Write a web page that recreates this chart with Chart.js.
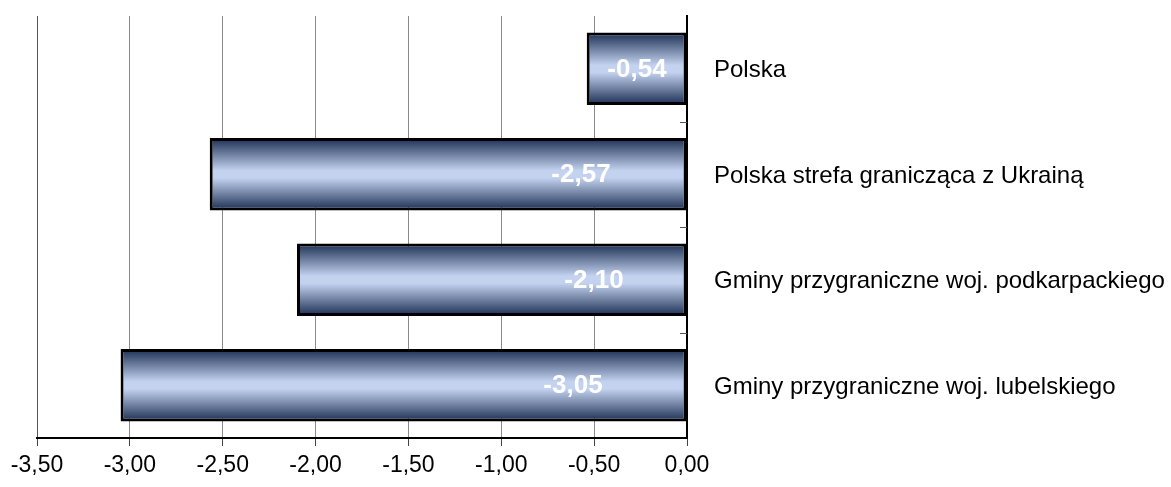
<!DOCTYPE html>
<html>
<head>
<meta charset="utf-8">
<script src="https://cdn.jsdelivr.net/npm/chart.js@4/dist/chart.umd.min.js"></script>
<style>
  html, body { margin: 0; padding: 0; background: #fff; }
  #wrap { width: 1171px; height: 487px; }
</style>
</head>
<body>
<div id="wrap"><canvas id="chart" width="1171" height="487"></canvas></div>
<script>
const categories = [
  'Polska',
  'Polska strefa granicząca z Ukrainą',
  'Gminy przygraniczne woj. podkarpackiego',
  'Gminy przygraniczne woj. lubelskiego'
];
const values = [-0.54, -2.57, -2.10, -3.05];
const xTicks = [-3.5, -3.0, -2.5, -2.0, -1.5, -1.0, -0.5, 0];

// label placement (px left of the zero line), style only
const labelOffsets = [-50, -106, -93, -114];
const BAR_PCT = 0.685;

const FONT = '"Liberation Sans", Arial, sans-serif';
const fmt = v => Number(v).toFixed(2).replace('.', ',');

function barGradient(context) {
  const chart = context.chart;
  const yScale = chart.scales.y;
  if (!chart.chartArea || !yScale || context.dataIndex === undefined) return '#8fa3c7';
  const cy = yScale.getPixelForValue(context.dataIndex);
  const half = (yScale.height / categories.length) * BAR_PCT / 2;
  const g = chart.ctx.createLinearGradient(0, cy - half, 0, cy + half);
  g.addColorStop(0, '#1b2e52');
  g.addColorStop(0.45, '#c3d2ef');
  g.addColorStop(0.55, '#c3d2ef');
  g.addColorStop(1, '#1b2e52');
  return g;
}

// white value labels inside the bars
const valueLabels = {
  id: 'valueLabels',
  afterDatasetsDraw(chart) {
    const ctx = chart.ctx;
    const zero = chart.scales.x.getPixelForValue(0);
    const meta = chart.getDatasetMeta(0);
    ctx.save();
    ctx.font = 'bold 26px ' + FONT;
    ctx.fillStyle = '#ffffff';
    ctx.textAlign = 'center';
    ctx.textBaseline = 'middle';
    meta.data.forEach((el, i) => {
      ctx.fillText(fmt(values[i]), zero + labelOffsets[i], el.y + 1);
    });
    ctx.restore();
  }
};

// small inner tick marks on the category axis
const innerTicks = {
  id: 'innerTicks',
  afterDraw(chart) {
    const ctx = chart.ctx;
    const { top, bottom, right } = chart.chartArea;
    const step = (bottom - top) / categories.length;
    ctx.save();
    ctx.strokeStyle = '#555';
    ctx.lineWidth = 1;
    for (let i = 1; i < categories.length; i++) {
      const y = Math.round(top + step * i) + 0.5;
      ctx.beginPath();
      ctx.moveTo(right - 7, y);
      ctx.lineTo(right, y);
      ctx.stroke();
    }
    ctx.restore();
  }
};

new Chart(document.getElementById('chart').getContext('2d'), {
  type: 'bar',
  data: {
    labels: categories,
    datasets: [{
      data: values,
      backgroundColor: barGradient,
      borderColor: '#000000',
      borderWidth: 3,
      borderSkipped: false,
      barPercentage: BAR_PCT,
      categoryPercentage: 1
    }]
  },
  options: {
    indexAxis: 'y',
    responsive: false,
    animation: false,
    layout: { padding: { top: 16, left: 37, right: 0, bottom: 0 } },
    plugins: { legend: { display: false }, tooltip: { enabled: false } },
    scales: {
      x: {
        min: -3.5,
        max: 0,
        afterBuildTicks: scale => { scale.ticks = xTicks.map(v => ({ value: v })); },
        afterFit: scale => { scale.height = 49; },
        grid: {
          color: ctx => (ctx.index === 0 ? '#555' : '#8a8a8a'),
          lineWidth: 1,
          tickLength: 8,
          tickColor: '#444'
        },
        border: { display: true, color: '#000', width: 2 },
        ticks: {
          color: '#000',
          font: { family: FONT, size: 23 },
          padding: 6,
          maxRotation: 0,
          callback: v => fmt(v)
        }
      },
      y: {
        position: 'right',
        afterFit: scale => {
          scale.width = 484;
          scale.paddingTop = 0;
          scale.paddingBottom = 0;
        },
        grid: { drawOnChartArea: false, drawTicks: false, tickLength: 0 },
        border: { display: true, color: '#000', width: 2 },
        ticks: {
          color: '#000',
          font: { family: FONT, size: 24 },
          padding: 27,
          labelOffset: 2
        }
      }
    }
  },
  plugins: [valueLabels, innerTicks]
});
</script>
</body>
</html>
